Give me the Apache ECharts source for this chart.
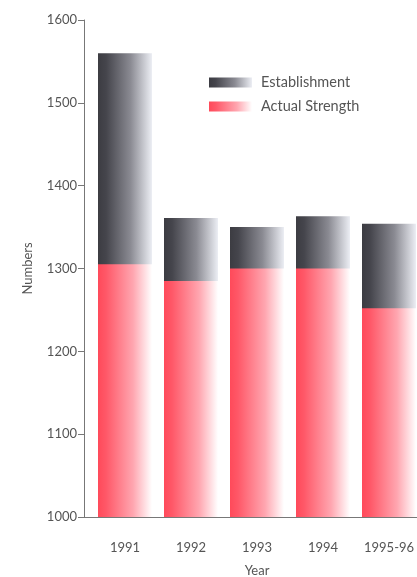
<!DOCTYPE html>
<html>
<head>
<meta charset="utf-8">
<style>
  html, body { margin: 0; padding: 0; background: #fff; }
  #chart { width: 417px; height: 577px; }
</style>
<script src="https://cdn.jsdelivr.net/npm/echarts@6/dist/echarts.min.js"></script>
</head>
<body>
<div id="chart"></div>
<script>
// Police numbers: authorised establishment vs. actual strength
const years = ['1991', '1992', '1993', '1994', '1995-96'];
const establishment = [1560, 1361, 1350, 1363, 1354];
const actualStrength = [1305, 1285, 1300, 1300, 1252];
const yTicks = { min: 1000, max: 1600, step: 100 };

const FONT = 'Lato, "Open Sans", sans-serif';
const TEXT = '#555';
const AXIS = '#777';

function hGrad(stops) {
  return new echarts.graphic.LinearGradient(0, 0, 1, 0, stops);
}

const estColor = hGrad([
  { offset: 0, color: '#3c3c42' },
  { offset: 0.15, color: '#45454c' },
  { offset: 0.6, color: '#8a8a92' },
  { offset: 1, color: '#eceef4' }
]);
const actColor = hGrad([
  { offset: 0, color: '#ff4a5a' },
  { offset: 0.15, color: '#ff5868' },
  { offset: 0.65, color: '#ffa6b0' },
  { offset: 1, color: '#ffffff' }
]);

const chart = echarts.init(document.getElementById('chart'));
chart.setOption({
  backgroundColor: '#fff',
  animation: false,
  textStyle: { fontFamily: FONT },
  legend: {
    left: 204,
    top: 70,
    orient: 'vertical',
    icon: 'rect',
    itemWidth: 43,
    itemHeight: 10,
    itemGap: 9,
    textStyle: { color: TEXT, fontSize: 14.5, fontFamily: FONT, padding: [0, 0, 0, 4] },
    data: ['Establishment', 'Actual Strength']
  },
  graphic: [{
    type: 'line',
    shape: { x1: 84, y1: 517.5, x2: 92, y2: 517.5 },
    style: { stroke: AXIS, lineWidth: 1 }
  }],
  grid: { left: 92, right: -5, top: 20, bottom: 60, containLabel: false, outerBoundsMode: 'none' },
  xAxis: {
    type: 'category',
    data: years,
    name: 'Year',
    nameLocation: 'middle',
    nameGap: 47,
    nameTextStyle: { color: TEXT, fontSize: 13, fontFamily: FONT },
    axisLine: { lineStyle: { color: AXIS } },
    axisTick: { show: false },
    axisLabel: { color: TEXT, fontSize: 13, margin: 24, interval: 0, fontFamily: FONT }
  },
  yAxis: {
    type: 'value',
    min: yTicks.min,
    max: yTicks.max,
    interval: yTicks.step,
    offset: 8,
    name: 'Numbers',
    nameLocation: 'middle',
    nameGap: 50,
    nameTextStyle: { color: TEXT, fontSize: 13, fontFamily: FONT },
    axisLine: { show: true, lineStyle: { color: AXIS } },
    axisTick: { show: true, length: 6, lineStyle: { color: AXIS } },
    axisLabel: {
      color: TEXT, fontSize: 13, margin: 7, fontFamily: FONT,
      formatter: v => String(v)
    },
    splitLine: { show: false }
  },
  series: [
    {
      name: 'Establishment',
      type: 'bar',
      data: establishment,
      barWidth: 54,
      itemStyle: { color: estColor }
    },
    {
      name: 'Actual Strength',
      type: 'bar',
      data: actualStrength,
      barWidth: 54,
      barGap: '-100%',
      itemStyle: { color: actColor }
    }
  ]
});
</script>
</body>
</html>
